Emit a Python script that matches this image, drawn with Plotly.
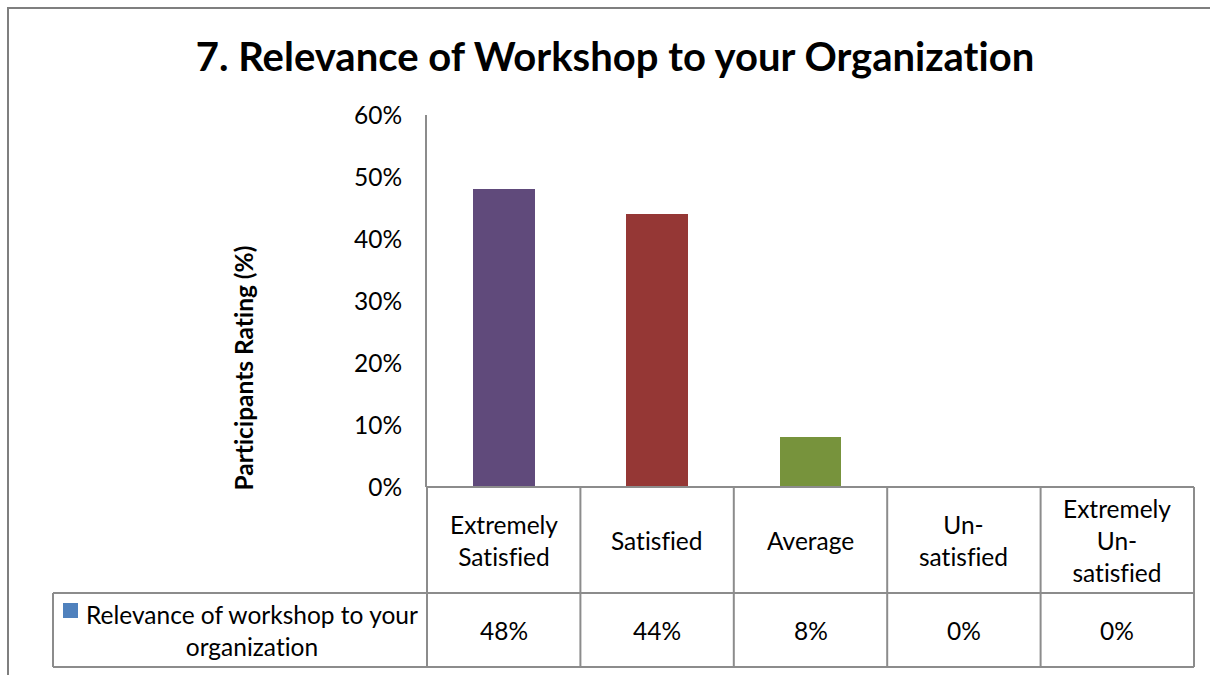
import plotly.graph_objects as go

categories = ['Extremely<br>Satisfied', 'Satisfied', 'Average', 'Un-<br>satisfied', 'Extremely<br>Un-<br>satisfied']
values = [48, 44, 8, 0, 0]
bar_colors = ['#604A7B', '#953735', '#77933C', '#4F81BD', '#4F81BD']
series_name = 'Relevance of workshop to your<br>organization'
y_ticks = [0, 10, 20, 30, 40, 50, 60]

W, H = 1210, 675
FONT = 'Lato, Calibri, Carlito, sans-serif'
GRID = '#8C8C8C'
TXT = dict(family=FONT, size=24.5, color='#000')


def px(x):
    return x / W


def py(y):
    return 1 - y / H


# plot area in pixels
x0, x1 = 427, 1194
y_top, y_base = 115, 487
row1, row2 = 593, 667
leg_left = 53

fig = go.Figure()
fig.add_trace(go.Bar(
    x=list(range(len(values))),
    y=values,
    marker=dict(color=bar_colors, line=dict(width=0)),
    width=0.404,
    showlegend=False,
    hoverinfo='skip'))

fig.update_xaxes(domain=[px(x0), px(x1)], range=[-0.5, len(values) - 0.5],
                 showticklabels=False, showgrid=False, zeroline=False,
                 showline=False, ticks='')
fig.update_yaxes(domain=[py(y_base), py(y_top)], range=[0, 60],
                 tickvals=y_ticks, ticktext=[f'{v}%' for v in y_ticks],
                 showgrid=False, zeroline=False, showline=True,
                 linecolor=GRID, linewidth=2, ticks='', ticklabelstandoff=18,
                 tickfont=TXT, automargin=False)

shapes = []
# outer chart border
shapes.append(dict(type='rect', xref='paper', yref='paper',
                   x0=px(8), x1=px(1230), y0=py(700), y1=py(8),
                   line=dict(color='#7F7F7F', width=2)))
# data table grid
cell_w = (x1 - x0) / len(values)
line_style = dict(color=GRID, width=2)
shapes.append(dict(type='line', xref='paper', yref='paper', x0=px(x0), x1=px(x1),
                   y0=py(y_base), y1=py(y_base), line=line_style))
shapes.append(dict(type='line', xref='paper', yref='paper', x0=px(leg_left), x1=px(x1),
                   y0=py(row1), y1=py(row1), line=line_style))
shapes.append(dict(type='line', xref='paper', yref='paper', x0=px(leg_left), x1=px(x1),
                   y0=py(row2), y1=py(row2), line=line_style))
shapes.append(dict(type='line', xref='paper', yref='paper', x0=px(leg_left), x1=px(leg_left),
                   y0=py(row1), y1=py(row2), line=line_style))
for i in range(len(values) + 1):
    xx = x0 + i * cell_w
    shapes.append(dict(type='line', xref='paper', yref='paper', x0=px(xx), x1=px(xx),
                       y0=py(y_base), y1=py(row2), line=line_style))
# legend key
shapes.append(dict(type='rect', xref='paper', yref='paper',
                   x0=px(63), x1=px(78), y0=py(618), y1=py(603),
                   fillcolor='#4F81BD', line=dict(width=0)))

annotations = []
for i, (cat, val) in enumerate(zip(categories, values)):
    cx = x0 + (i + 0.5) * cell_w
    annotations.append(dict(xref='paper', yref='paper', x=px(cx), y=py((y_base + row1) / 2),
                            xanchor='center', yanchor='middle',
                            text=cat, showarrow=False, align='center', font=TXT))
    annotations.append(dict(xref='paper', yref='paper', x=px(cx), y=py((row1 + row2) / 2),
                            xanchor='center', yanchor='middle',
                            text=f'{val}%', showarrow=False, align='center', font=TXT))
annotations.append(dict(xref='paper', yref='paper', x=px(252), y=py((row1 + row2) / 2),
                        xanchor='center', yanchor='middle',
                        text=series_name, showarrow=False, align='center', font=TXT))
# y axis title
annotations.append(dict(xref='paper', yref='paper', x=px(243), y=py(368),
                        xanchor='center', yanchor='middle', textangle=-90,
                        text='<b>Participants Rating (%)</b>', showarrow=False,
                        font=TXT))

fig.update_layout(
    width=W, height=H,
    autosize=False,
    margin=dict(l=0, r=0, t=0, b=0, pad=0),
    paper_bgcolor='white', plot_bgcolor='white',
    title=dict(text='<b>7. Relevance of Workshop to your Organization</b>',
               x=px(615), y=py(57), xanchor='center', yanchor='middle',
               font=dict(family=FONT, size=40, color='#000'), automargin=False),
    shapes=shapes,
    annotations=annotations,
    bargap=0,
)

fig.write_html('out.html', config={'displayModeBar': False}, post_script=(
    "document.body.style.margin='0';document.body.style.overflow='hidden';"
    "var s=document.createElement('style');"
    "s.textContent='svg text{font-variant-ligatures:none !important;"
    "font-feature-settings:\"liga\" 0, \"clig\" 0 !important;}';"
    "document.head.appendChild(s);"))
